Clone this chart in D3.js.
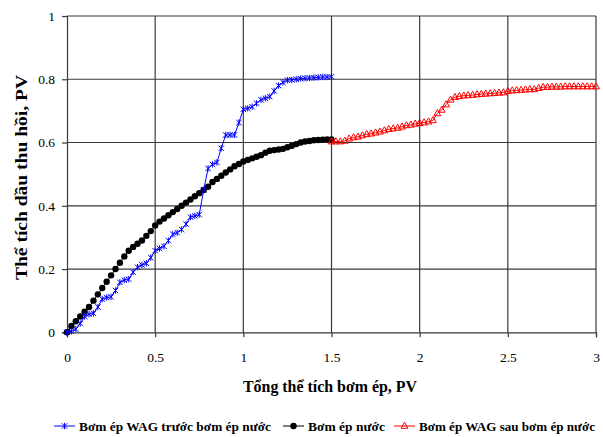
<!DOCTYPE html>
<html lang="vi">
<head>
<meta charset="UTF-8">
<script src="https://cdn.jsdelivr.net/npm/d3@7"></script>
<style>
  body { margin: 0; background: #fff; }
</style>
</head>
<body>
<script>
// x values shared by the two first series (PV injected)
const xFirst = [0, 0.025, 0.05, 0.075, 0.1, 0.125, 0.15, 0.175, 0.2, 0.225, 0.25, 0.275, 0.3, 0.325, 0.35, 0.375, 0.4, 0.425, 0.45, 0.475,
  0.5, 0.525, 0.55, 0.575, 0.6, 0.625, 0.65, 0.675, 0.7, 0.725, 0.75, 0.775, 0.8, 0.825, 0.85, 0.875, 0.9, 0.925, 0.95, 0.975,
  1.0, 1.025, 1.05, 1.075, 1.1, 1.125, 1.15, 1.175, 1.2, 1.225, 1.25, 1.275, 1.3, 1.325, 1.35, 1.375, 1.4, 1.425, 1.45, 1.475, 1.5];

// Bơm ép WAG trước bơm ép nước
const wagBefore = [0, 0.003, 0.01, 0.028, 0.05, 0.057, 0.06, 0.08, 0.105, 0.11, 0.112, 0.132, 0.158, 0.165, 0.168, 0.19, 0.206, 0.213, 0.218, 0.236,
  0.258, 0.265, 0.272, 0.29, 0.31, 0.315, 0.325, 0.342, 0.364, 0.368, 0.372, 0.45, 0.518, 0.531, 0.537, 0.582, 0.624, 0.624, 0.624, 0.663,
  0.705, 0.708, 0.713, 0.724, 0.735, 0.74, 0.745, 0.763, 0.78, 0.79, 0.797, 0.798, 0.8, 0.802, 0.803, 0.804, 0.805, 0.806, 0.807, 0.807, 0.808];

// Bơm ép nước
const water = [0, 0.02, 0.035, 0.05, 0.065, 0.08, 0.1, 0.12, 0.14, 0.16, 0.18, 0.2, 0.22, 0.24, 0.258, 0.27, 0.28, 0.29, 0.305, 0.32,
  0.338, 0.35, 0.36, 0.37, 0.38, 0.39, 0.4, 0.41, 0.42, 0.43, 0.44, 0.45, 0.46, 0.475, 0.485, 0.495, 0.505, 0.515, 0.525, 0.532,
  0.54, 0.545, 0.55, 0.555, 0.56, 0.568, 0.574, 0.576, 0.578, 0.58, 0.585, 0.59, 0.595, 0.6, 0.603, 0.605, 0.607, 0.608, 0.609, 0.61, 0.61];

// x values for the WAG-after-water series
const xSecond = [1.5, 1.525, 1.55, 1.575, 1.6, 1.625, 1.65, 1.675, 1.7, 1.725, 1.75, 1.775, 1.8, 1.825, 1.85, 1.875, 1.9, 1.925, 1.95, 1.975,
  2.0, 2.025, 2.05, 2.075, 2.1, 2.125, 2.15, 2.175, 2.2, 2.225, 2.25, 2.275, 2.3, 2.325, 2.35, 2.375, 2.4, 2.425, 2.45, 2.475,
  2.5, 2.525, 2.55, 2.575, 2.6, 2.625, 2.65, 2.675, 2.7, 2.725, 2.75, 2.775, 2.8, 2.825, 2.85, 2.875, 2.9, 2.925, 2.95, 2.975, 3.0];

// Bơm ép WAG sau bơm ép nước
const wagAfter = [0.603, 0.603, 0.603, 0.605, 0.612, 0.616, 0.618, 0.622, 0.626, 0.628, 0.631, 0.634, 0.638, 0.642, 0.644, 0.646, 0.65, 0.654, 0.656, 0.659,
  0.661, 0.663, 0.666, 0.67, 0.692, 0.703, 0.72, 0.735, 0.743, 0.746, 0.748, 0.749, 0.75, 0.752, 0.753, 0.754, 0.755, 0.756, 0.757, 0.758,
  0.762, 0.764, 0.765, 0.766, 0.767, 0.768, 0.768, 0.772, 0.775, 0.775, 0.776, 0.776, 0.776, 0.777, 0.777, 0.777, 0.777, 0.777, 0.777, 0.777, 0.777];

const xTicks = [0, 0.5, 1, 1.5, 2, 2.5, 3];
const yTicks = [0, 0.2, 0.4, 0.6, 0.8, 1];
const seriesNames = ["Bơm ép WAG trước bơm ép nước", "Bơm ép nước", "Bơm ép WAG sau bơm ép nước"];

const FONT = "Liberation Serif";
const width = 603, height = 437;
const margin = {left: 67, right: 7, top: 16, bottom: 104.7};

const x = d3.scaleLinear().domain([0, 3]).range([margin.left, width - margin.right]);
const y = d3.scaleLinear().domain([0, 1]).range([height - margin.bottom, margin.top]);

const svg = d3.select("body").append("svg")
    .attr("width", width)
    .attr("height", height)
    .attr("font-family", FONT);

// grid
svg.append("g").selectAll("line")
    .data(yTicks.slice(1))
    .enter().append("line")
    .attr("x1", x(0)).attr("x2", x(3))
    .attr("y1", d => y(d)).attr("y2", d => y(d))
    .attr("stroke", "#3a3a3a").attr("stroke-width", 1.2);

svg.append("g").selectAll("line")
    .data(xTicks.slice(1))
    .enter().append("line")
    .attr("x1", d => x(d)).attr("x2", d => x(d))
    .attr("y1", y(0)).attr("y2", y(1))
    .attr("stroke", "#3a3a3a").attr("stroke-width", 1.2);

// axes
const xAxis = svg.append("g")
    .attr("transform", `translate(0,${y(0)})`)
    .call(d3.axisBottom(x).tickValues(xTicks).tickSize(5).tickPadding(15).tickFormat(d3.format("")));
const yAxis = svg.append("g")
    .attr("transform", `translate(${x(0)},0)`)
    .call(d3.axisLeft(y).tickValues(yTicks).tickSize(5).tickPadding(7).tickFormat(d3.format("")));

[xAxis, yAxis].forEach(a => {
  a.attr("font-family", FONT).attr("font-size", 13.5);
  a.select(".domain").attr("stroke", "#3a3a3a").attr("stroke-width", 1.2);
  a.selectAll(".tick line").attr("stroke", "#3a3a3a").attr("stroke-width", 1.2);
  a.selectAll(".tick text").attr("fill", "#000").attr("font-family", FONT);
});

// series
const line = d3.line().x(d => x(d[0])).y(d => y(d[1]));
const blueData = d3.zip(xFirst, wagBefore);
const blackData = d3.zip(xFirst, water);
const redData = d3.zip(xSecond, wagAfter);

const starPath = "M-2.7,-2.7L2.7,2.7M-2.7,2.7L2.7,-2.7M0,-3.2L0,3.2";
const triPath = "M0,-3.8L3.4,2.3L-3.4,2.3Z";

function drawSeries(data, color, marker) {
  svg.append("path")
      .datum(data)
      .attr("d", line)
      .attr("fill", "none")
      .attr("stroke", color)
      .attr("stroke-width", 1);
  const g = svg.append("g").selectAll("g")
      .data(data)
      .enter().append("g")
      .attr("transform", d => `translate(${x(d[0])},${y(d[1])})`);
  marker(g);
}

const dotMarker = g => g.append("circle").attr("r", 3.2).attr("fill", "#000");
const starMarker = g => g.append("path").attr("d", starPath).attr("stroke", "#0000ff").attr("fill", "none").attr("stroke-width", 1);
const triMarker = g => g.append("path").attr("d", triPath).attr("stroke", "#ff0000").attr("fill", "none").attr("stroke-width", 1);

drawSeries(blackData, "#000", dotMarker);
drawSeries(blueData, "#0000ff", starMarker);
drawSeries(redData, "#ff0000", triMarker);

// axis titles (the original glyphs are narrow, so squeeze to the measured width)
svg.append("text")
    .attr("x", 243).attr("y", 392)
    .attr("font-family", FONT).attr("font-size", 16.5).attr("font-weight", "bold")
    .attr("textLength", 174).attr("lengthAdjust", "spacingAndGlyphs")
    .text("Tổng thể tích bơm ép, PV");

svg.append("text")
    .attr("transform", "translate(27,280) rotate(-90)")
    .attr("font-family", FONT).attr("font-size", 16.5).attr("font-weight", "bold")
    .attr("textLength", 205).attr("lengthAdjust", "spacingAndGlyphs")
    .text("Thể tích dầu thu hồi, PV");

// legend
const legendItems = [
  {name: seriesNames[0], color: "#0000ff", marker: starMarker, x: 54, w: 192},
  {name: seriesNames[1], color: "#000", marker: dotMarker, x: 283, w: 77},
  {name: seriesNames[2], color: "#ff0000", marker: triMarker, x: 394, w: 176}
];
const legendY = 426;
const lg = svg.append("g").selectAll("g")
    .data(legendItems)
    .enter().append("g")
    .attr("transform", d => `translate(${d.x},${legendY})`);
lg.append("line")
    .attr("x1", 0).attr("x2", 21)
    .attr("stroke", d => d.color).attr("stroke-width", 1);
lg.each(function(d) {
  const m = d3.select(this).append("g").attr("transform", "translate(10.5,0)");
  d.marker(m);
});
lg.append("text")
    .attr("x", 25).attr("y", 4.5)
    .attr("font-family", FONT).attr("font-size", 13.2).attr("font-weight", "bold")
    .attr("textLength", d => d.w).attr("lengthAdjust", "spacingAndGlyphs")
    .text(d => d.name);
</script>
</body>
</html>
